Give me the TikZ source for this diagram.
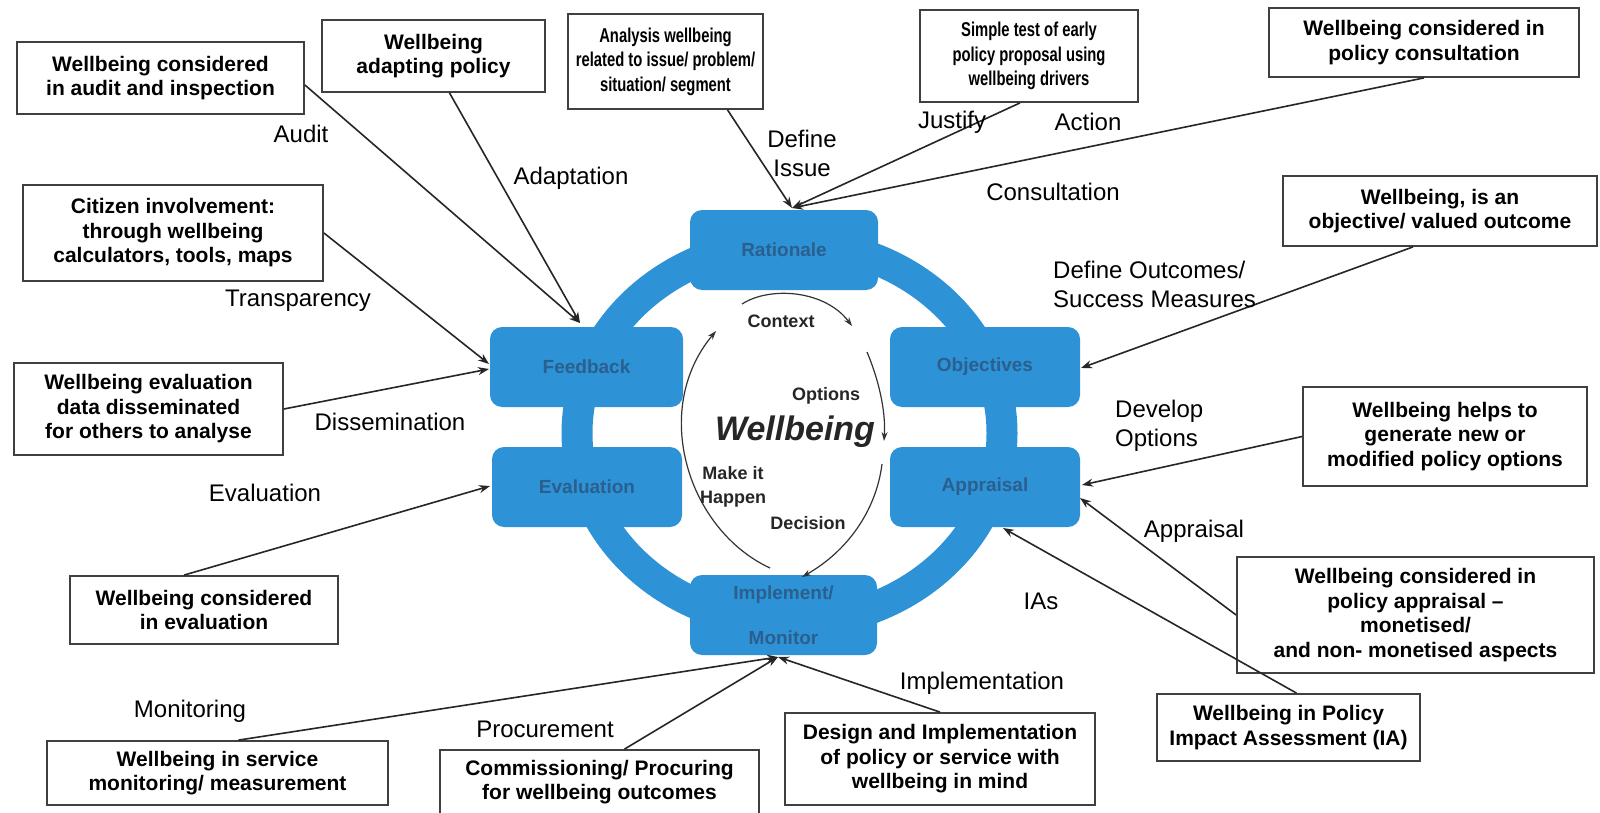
\documentclass[tikz,border=0pt]{standalone}
\usepackage{fontspec}
\setmainfont{Liberation Sans}
\newfontfamily\condfont[FakeStretch=0.74]{Liberation Sans}
\usetikzlibrary{arrows.meta,calc}
\definecolor{ringblue}{HTML}{2E92D6}
\definecolor{labblue}{HTML}{2A5F8E}
\begin{document}
\begin{tikzpicture}[x=1pt,y=-1pt,
  obox/.style={draw=black!75,line width=1.8pt,fill=white,align=center,inner sep=0pt,
    font=\fontsize{21}{24.5}\selectfont\bfseries},
  nbox/.style={obox,font=\condfont\fontsize{20}{24.5}\selectfont\bfseries},
  bbox/.style={fill=ringblue,rounded corners=12pt,minimum width=190,minimum height=80,
    inner sep=0pt,align=center,text=labblue,font=\fontsize{19}{45}\selectfont\bfseries},
  elab/.style={font=\fontsize{24}{29}\selectfont,inner sep=0pt,text=black},
  ilab/.style={font=\fontsize{18}{24}\selectfont\bfseries,inner sep=0pt,text=black!85},
  arr/.style={-{Stealth[length=11pt,width=8pt]},line width=1.6pt,draw=black!85},
  carr/.style={-{Stealth[length=9pt,width=6pt]},line width=1.2pt,draw=black!80},
]
\useasboundingbox (0,0) rectangle (1600,813);
\fill[white] (0,0) rectangle (1600,813);

% ring
\draw[ringblue,line width=31pt] (789.5,433) ellipse [x radius=212.5,y radius=190];

% blue boxes
\node[bbox,minimum width=188] (rat) at (784,250) {Rationale};
\node[bbox,minimum width=193] (fb) at (586.5,367) {Feedback};
\node[bbox] (ev) at (587,487) {Evaluation};
\node[bbox] (ob) at (985,367) {Objectives};
\node[bbox] (ap) at (985,487) {Appraisal};
\node[bbox,minimum width=187] (mo) at (783.5,615) {Implement/\\Monitor};

% outer boxes
\node[obox,minimum width=287,minimum height=72] (audit) at (160.5,78) {Wellbeing considered\\in audit and inspection};
\node[obox,minimum width=223,minimum height=72] (adapt) at (433.5,56) {Wellbeing\\adapting policy};
\node[nbox,minimum width=195,minimum height=95] (analysis) at (665.5,61.5) {Analysis wellbeing\\related to issue/ problem/\\situation/ segment};
\node[nbox,minimum width=218,minimum height=92] (simple) at (1029,56) {Simple test of early\\policy proposal using\\wellbeing drivers};
\node[obox,minimum width=310,minimum height=69] (consult) at (1424,42.5) {Wellbeing considered in\\policy consultation};
\node[obox,minimum width=300,minimum height=96] (citizen) at (173,233) {Citizen involvement:\\through wellbeing\\calculators, tools, maps};
\node[obox,minimum width=314,minimum height=70] (objective) at (1440,211) {Wellbeing, is an\\objective/ valued outcome};
\node[obox,minimum width=269,minimum height=92] (dissem) at (148.5,409) {Wellbeing evaluation\\data disseminated\\for others to analyse};
\node[obox,minimum width=284,minimum height=99] (helps) at (1445,436.5) {Wellbeing helps to\\generate new or\\modified policy options};
\node[obox,minimum width=268,minimum height=68] (evalbox) at (204,610) {Wellbeing considered\\in evaluation};
\node[obox,minimum width=357,minimum height=116] (appbox) at (1415.5,615) {Wellbeing considered in\\policy appraisal --\\monetised/\\and non- monetised aspects};
\node[obox,minimum width=263,minimum height=67] (ia) at (1288.5,727.5) {Wellbeing in Policy\\Impact Assessment (IA)};
\node[obox,minimum width=341,minimum height=64] (service) at (217.5,773) {Wellbeing in service\\monitoring/ measurement};
\node[obox,minimum width=319,minimum height=64] (commission) at (599.5,782) {Commissioning/ Procuring\\for wellbeing outcomes};
\node[obox,minimum width=310,minimum height=92] (design) at (940,759) {Design and Implementation\\of policy or service with\\wellbeing in mind};

% arrow targets
\coordinate (fbT) at (580,323);
\coordinate (fbL1) at (489,364);
\coordinate (fbL2) at (489,369);
\coordinate (evL) at (490,486);
\coordinate (raT) at (792,208);
\coordinate (obR) at (1081,368);
\coordinate (apR1) at (1082,485);
\coordinate (apR2) at (1080,498);
\coordinate (apB) at (1003,528);
\coordinate (moB) at (778,657);

% outer connectors
\draw[arr] ($(audit.east)+(0,7)$) -- (fbT);
\draw[arr] ($(adapt.south)+(16,0)$) -- (fbT);
\draw[arr] ($(analysis.south)+(62,0)$) -- (raT);
\draw[arr] ($(simple.south)+(-9,0)$) -- (raT);
\draw[arr] (consult.south) -- (raT);
\draw[arr] (citizen.east) -- (fbL1);
\draw[arr] (dissem.east) -- (fbL2);
\draw[arr] ($(evalbox.north)+(-20,0)$) -- (evL);
\draw[arr] ($(objective.south)+(-27,0)$) -- (obR);
\draw[arr] (helps.west) -- (apR1);
\draw[arr] (appbox.west) -- (apR2);
\draw[arr] ($(ia.north)+(8,0)$) -- (apB);
\draw[arr] ($(service.north)+(21,0)$) -- (moB);
\draw[arr] ($(commission.north)+(25,0)$) -- (moB);
\draw[arr] (design.north) -- (moB);

% edge labels
\node[elab] (lAudit) at (301,134) {Audit};
\node[elab] (lAdapt) at (571,178) {Adaptation};
\node[elab,align=center] (lDefine) at (802,153) {Define\\Issue};
\node[elab] (lJustify) at (952,122) {Justify};
\node[elab] (lAction) at (1088,122) {Action};
\node[elab] (lConsult) at (1053,192) {Consultation};
\node[elab] (lTransp) at (298,301) {Transparency};
\node[elab,align=left,anchor=west] (lOutc) at (1053,284) {Define Outcomes/\\Success Measures};
\node[elab] (lDissem) at (390,422) {Dissemination};
\node[elab,align=left,anchor=west] (lDevelop) at (1115,426) {Develop\\Options};
\node[elab] (lEval) at (265,493) {Evaluation};
\node[elab] (lAppr) at (1194,531) {Appraisal};
\node[elab] (lIAs) at (1041,601) {IAs};
\node[elab] (lImpl) at (982,683) {Implementation};
\node[elab] (lMon) at (190,711) {Monitoring};
\node[elab] (lProc) at (545,729) {Procurement};

% inner cycle
\coordinate (c1) at (742,304);
\coordinate (c2) at (852,326);
\coordinate (c3) at (867,352);
\coordinate (c4) at (884,441);
\coordinate (c5) at (882,464);
\coordinate (c6) at (802,577);
\coordinate (c7) at (770,568);
\coordinate (c8) at (716,331);
\draw[carr] (c1) .. controls (770,286) and (825,290) .. (c2);
\draw[carr] (c3) .. controls (878,378) and (886,410) .. (c4);
\draw[carr] (c5) .. controls (876,512) and (846,552) .. (c6);
\draw[carr] (c7) .. controls (688,530) and (650,410) .. (c8);

\node[ilab] (tContext) at (781,321) {Context};
\node[ilab] (tOptions) at (826,396) {Options};
\node[font=\fontsize{34}{40}\selectfont\bfseries\itshape,inner sep=0pt,text=black!85] (tWell) at (795,432) {Wellbeing};
\node[ilab,align=center] (tMake) at (733,487) {Make it\\Happen};
\node[ilab] (tDec) at (808,523) {Decision};
\end{tikzpicture}
\end{document}
